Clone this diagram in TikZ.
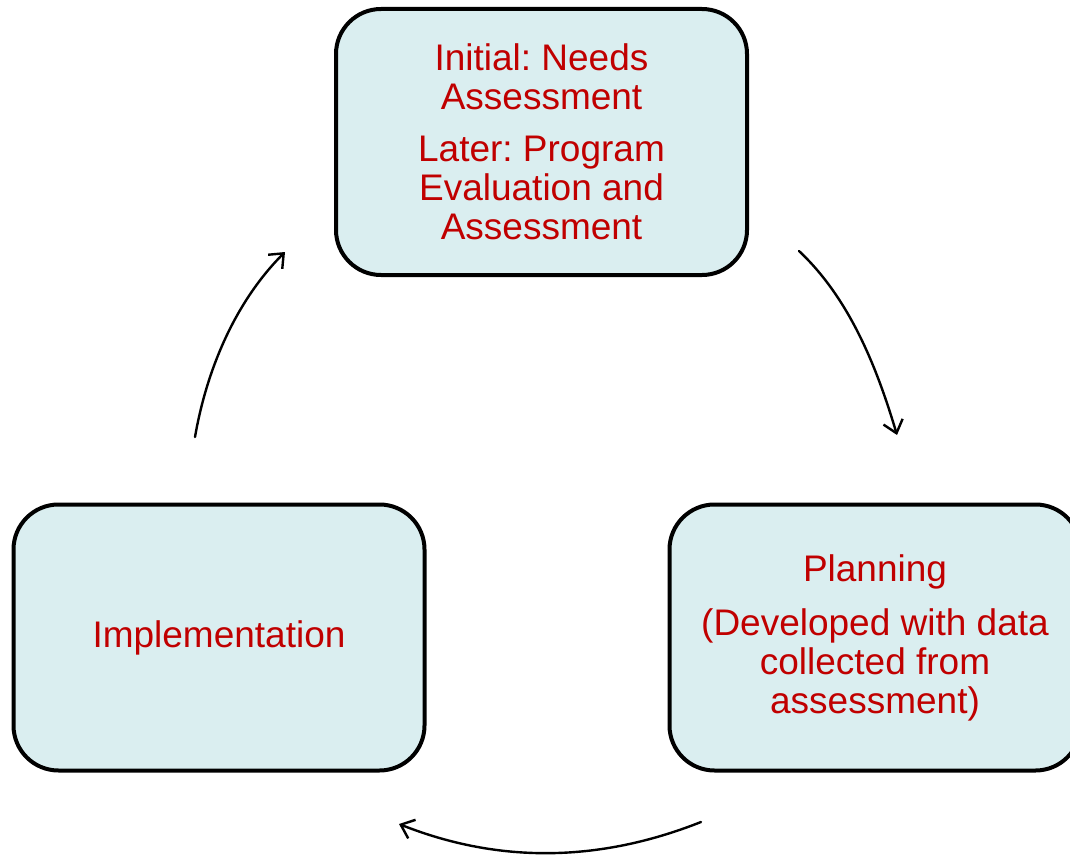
\documentclass[tikz,border=0pt]{standalone}
\usepackage{fontspec}
\setmainfont{Liberation Sans}
\usetikzlibrary{arrows.meta}
\definecolor{boxfill}{HTML}{DAEEF0}
\definecolor{txtred}{HTML}{C00000}
\frenchspacing
\begin{document}
\begin{tikzpicture}[x=1pt,y=-1pt,
  stagebox/.style={draw=black, line width=4pt, fill=boxfill, rounded corners=45pt,
    minimum width=411pt, minimum height=266pt, inner sep=0pt, align=center,
    text=txtred, font=\fontsize{37}{39}\selectfont},
  cyc/.style={line width=2.4pt, line cap=round, -{Straight Barb[length=12pt,width=20pt]}}]
\useasboundingbox (0,0) rectangle (1070,856);
\clip (0,0) rectangle (1070,856);
\node[stagebox] (assess) at (541.5,142) {Initial: Needs\\Assessment\\[13pt]Later: Program\\Evaluation and\\Assessment};
\node[stagebox] (plan) at (875,637.5) {Planning\\[15pt](Developed with data\\collected from\\assessment)};
\node[stagebox] (impl) at (219,637.5) {Implementation};
\coordinate (a1s) at (799,251);
\coordinate (a1e) at (897,435);
\coordinate (a2s) at (701,822);
\coordinate (a2e) at (399,824);
\coordinate (a3s) at (195,437);
\coordinate (a3e) at (285,252);
\draw[cyc] (a1s) .. controls (850,299) and (877,368) .. (a1e);
\draw[cyc] (a2s) .. controls (600,862) and (500,864) .. (a2e);
\draw[cyc] (a3s) .. controls (207,368) and (236,301) .. (a3e);
\end{tikzpicture}
\end{document}
